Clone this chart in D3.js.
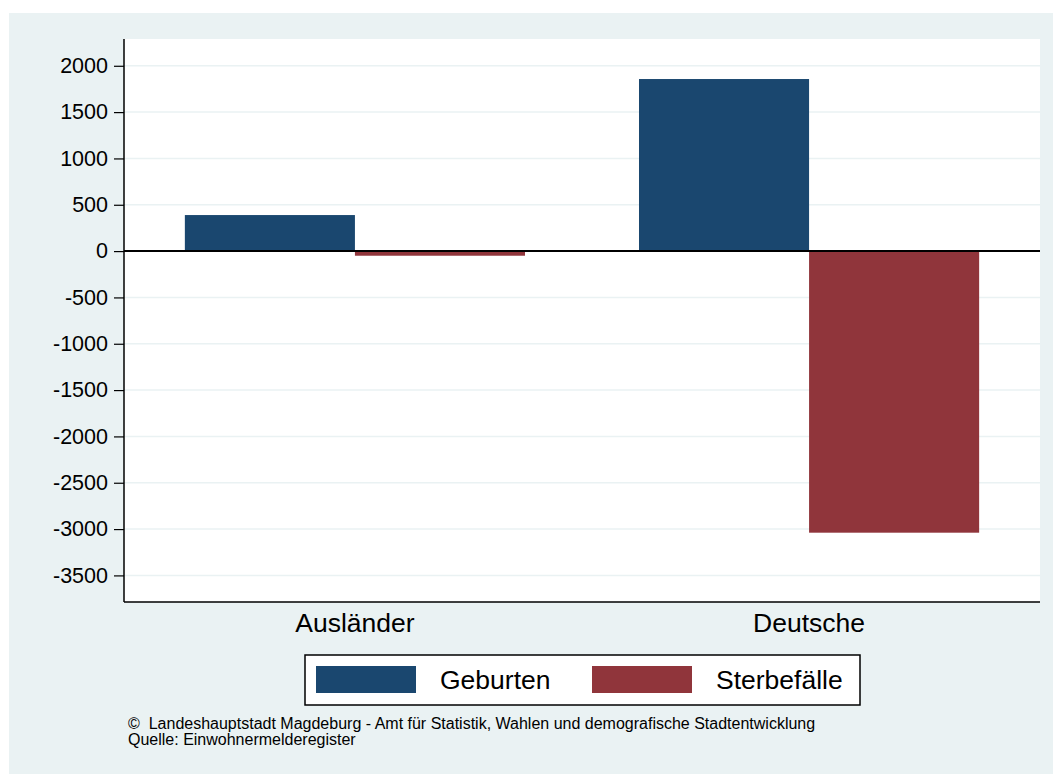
<!DOCTYPE html>
<html><head><meta charset="utf-8">
<script src="https://cdn.jsdelivr.net/npm/d3@7"></script>
<style>
html,body{margin:0;padding:0;background:#fff;}
svg{display:block;font-family:"Liberation Sans",Arial,Helvetica,sans-serif;}
</style></head>
<body>
<svg id="chart" width="1053" height="774"></svg>
<script>
const categories = ["Ausländer", "Deutsche"];
const seriesNames = ["Geburten", "Sterbefälle"];
const geburten = [389, 1857];
const sterbefaelle = [-50, -3039];
const yTicks = [2000, 1500, 1000, 500, 0, -500, -1000, -1500, -2000, -2500, -3000, -3500];
const footerLines = ["©  Landeshauptstadt Magdeburg - Amt für Statistik, Wahlen und demografische Stadtentwicklung", "Quelle: Einwohnermelderegister"];
const colors = ["#1a476f", "#90353b"];

const svg = d3.select("#chart");
const W = 1053, H = 774;
const plot = {left: 124, right: 1040, top: 39, bottom: 602};

svg.append("rect").attr("x", 9).attr("y", 13).attr("width", W - 9).attr("height", H - 13).attr("fill", "#eaf2f3");
svg.append("rect").attr("x", plot.left).attr("y", plot.top).attr("width", plot.right - plot.left).attr("height", plot.bottom - plot.top).attr("fill", "#fff");

const y = d3.scaleLinear().domain([-3787, 2289]).range([plot.bottom, plot.top]);
const x0 = d3.scaleBand().domain(categories).range([plot.left, plot.right]).paddingInner(0.251).paddingOuter(0.134);
const x1 = d3.scaleBand().domain(seriesNames).range([0, x0.bandwidth()]);

// gridlines
svg.append("g").selectAll("line").data(yTicks).join("line")
  .attr("x1", plot.left).attr("x2", plot.right)
  .attr("y1", d => y(d)).attr("y2", d => y(d))
  .attr("stroke", "#eaf2f3").attr("stroke-width", 1.5);

// bars
const values = [geburten, sterbefaelle];
const rows = [];
categories.forEach((c, i) => seriesNames.forEach((s, j) => rows.push({c, s, v: values[j][i], j})));
svg.append("g").selectAll("rect").data(rows).join("rect")
  .attr("x", d => x0(d.c) + x1(d.s))
  .attr("width", x1.bandwidth())
  .attr("y", d => y(Math.max(0, d.v)))
  .attr("height", d => Math.abs(y(d.v) - y(0)))
  .attr("fill", d => colors[d.j]);

// zero line
svg.append("line").attr("x1", plot.left).attr("x2", plot.right).attr("y1", y(0)).attr("y2", y(0))
  .attr("stroke", "#000").attr("stroke-width", 2);

// y axis
const yAxis = d3.axisLeft(y).tickValues(yTicks).tickSize(10).tickPadding(6).tickFormat(d => String(d).replace("−", "-"));
const gy = svg.append("g").attr("transform", `translate(${plot.left},0)`).call(yAxis);
gy.select(".domain").remove();
gy.selectAll(".tick line").attr("stroke", "#000").attr("stroke-width", 1.2);
gy.selectAll(".tick text").attr("font-size", 21.5).attr("fill", "#000").attr("font-family", "Liberation Sans, Arial, sans-serif");
svg.append("line").attr("x1", plot.left).attr("x2", plot.left).attr("y1", plot.top).attr("y2", plot.bottom).attr("stroke", "#000").attr("stroke-width", 1.5);

// x axis
const xAxis = d3.axisBottom(x0).tickSize(0).tickPadding(11);
const gx = svg.append("g").attr("transform", `translate(0,${plot.bottom})`).call(xAxis);
gx.select(".domain").remove();
gx.selectAll(".tick text").attr("font-size", 26.5).attr("fill", "#000").attr("font-family", "Liberation Sans, Arial, sans-serif");
svg.append("line").attr("x1", plot.left).attr("x2", plot.right).attr("y1", plot.bottom).attr("y2", plot.bottom).attr("stroke", "#000").attr("stroke-width", 1.5);

// legend
const lg = svg.append("g");
lg.append("rect").attr("x", 305).attr("y", 655).attr("width", 555).attr("height", 50).attr("fill", "#fff").attr("stroke", "#000").attr("stroke-width", 1.5);
const legItems = [{x: 316, tx: 440}, {x: 592, tx: 716}];
seriesNames.forEach((s, i) => {
  lg.append("rect").attr("x", legItems[i].x).attr("y", 666).attr("width", 100).attr("height", 27).attr("fill", colors[i]);
  lg.append("text").attr("x", legItems[i].tx).attr("y", 689).attr("font-size", 26.5).attr("fill", "#000").text(s);
});

// footer
svg.append("g").selectAll("text").data(footerLines).join("text")
  .attr("x", 128).attr("y", (d, i) => 729 + i * 16)
  .attr("font-size", 16).attr("fill", "#000").style("white-space", "pre").text(d => d);
</script>
</body></html>
